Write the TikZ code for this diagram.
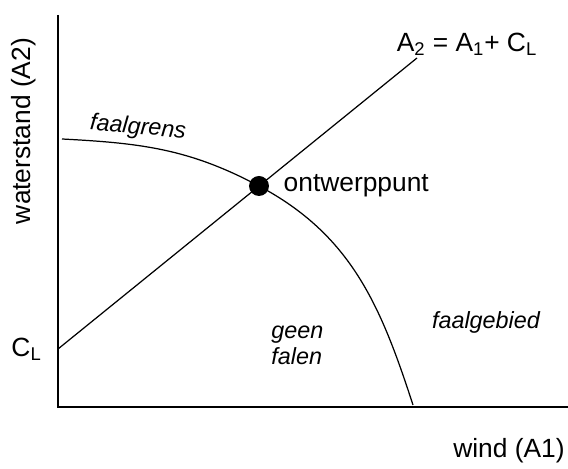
\documentclass[tikz,border=0pt]{standalone}
\usepackage{fontspec}
\setmainfont{Liberation Sans}
\usetikzlibrary{positioning}

\begin{document}
\begin{tikzpicture}[
    axis/.style={line width=0.8pt},
    curve/.style={line width=0.7pt},
    lbl/.style={font=\fontsize{15}{18}\selectfont, inner sep=0pt},
    region/.style={font=\fontsize{13.3}{14.8}\selectfont\itshape, inner sep=0pt, align=left},
    point/.style={circle, fill=black, minimum size=0.4cm, inner sep=0pt},
]
    \useasboundingbox (0,0) rectangle (11.36,9.38);

    % Axes
    \coordinate (origin) at (1.16,1.24);
    \coordinate (ytop) at (1.16,9.08);
    \coordinate (xend) at (11.36,1.24);
    \draw[axis] (ytop) -- (origin) -- (xend);

    % Axis labels
    \node[lbl, rotate=90] (ylab) at (0.48,6.76) {waterstand (A2)};
    \node[lbl] (xlab) at (10.18,0.36) {wind (A1)};

    % Design point
    \node[point] (dot) at (5.18,5.66) {};
    \node[lbl, right=0.28cm of dot] (dotlab) {ontwerppunt};

    % Line A2 = A1 + CL
    \coordinate (cl) at (1.16,2.40);
    \coordinate (lineend) at (8.34,8.22);
    \draw[curve] (cl) -- (lineend);
    \node[lbl, left=0.32cm of cl] (cllab) {C\textsubscript{L}};
    \node[lbl] (eqlab) at (9.34,8.49) {A\textsubscript{2} = A\textsubscript{1}+ C\textsubscript{L}};

    % Limit state
    \coordinate (gstart) at (1.24,6.60);
    \coordinate (gend) at (8.26,1.28);
    \draw[curve] (gstart) to[out=-3, in=152] (dot.center) to[out=-28, in=108] (gend);
    \node[region, rotate=-5] (glab) at (2.76,6.82) {faalgrens};
    \node[region, anchor=west] (safe) at (5.42,2.48) {geen\\falen};
    \node[region] (fail) at (9.72,2.94) {faalgebied};
\end{tikzpicture}
\end{document}
